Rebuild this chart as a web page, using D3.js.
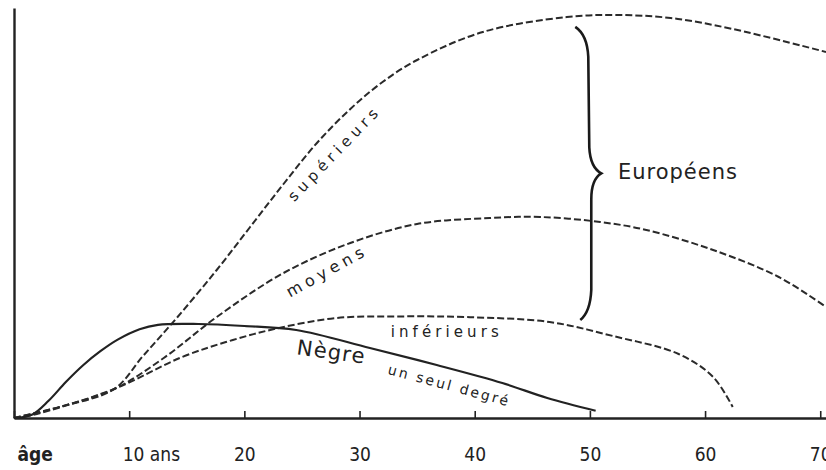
<!DOCTYPE html>
<html>
<head>
<meta charset="utf-8">
<script src="https://cdn.jsdelivr.net/npm/d3@7"></script>
<style>
  body { margin: 0; background: #fff; }
  text { fill: #222; font-family: "DejaVu Sans", sans-serif; }
  .tick text { font-family: "DejaVu Sans Condensed", "DejaVu Sans", sans-serif; font-stretch: condensed; }
</style>
</head>
<body>
<div id="chart"></div>
<script>
// values (age in years, growth in arbitrary units)
var superieursAge = [0, 4, 8.7, 11.2, 14.2, 17.6, 20.5, 23.4, 26.3, 29.2, 32, 35, 40.7, 48, 52.3, 57, 62.4, 70.5];
var superieursVal = [0, 2.8, 7.25, 15.5, 25.25, 37, 47.75, 58.5, 68.75, 77.25, 84, 89.5, 96.5, 100.25, 100.75, 100, 97.25, 91.5];

var moyensAge = [0, 4, 8.7, 13, 17.6, 23.4, 29.2, 35, 41.3, 45.7, 50.9, 54.9, 60.7, 66.4, 70.5];
var moyensVal = [0, 2.8, 7.25, 15, 25.25, 36.25, 43.75, 48.5, 50, 50.25, 49, 47, 42, 35.25, 27.75];

var inferieursAge = [0, 1.6, 8.7, 14.6, 19, 23, 28, 33.7, 39.6, 46.5, 52, 57.7, 60.7, 62.4];
var inferieursVal = [0, 0.75, 7.25, 15.25, 19.5, 22.5, 25, 25.4, 25.2, 24, 20.5, 16, 10.25, 2.75];

var negreAge = [0, 1.6, 3, 4.5, 6, 7.5, 9, 10.9, 12.5, 16, 20, 24.5, 30.9, 36.7, 42.4, 46.3, 50.5];
var negreVal = [0, 0.9, 4.3, 9, 13.2, 16.7, 19.6, 22.2, 23.3, 23.5, 23, 22, 17.5, 13.25, 8.75, 5, 1.8];

var tickAges = [0, 10, 20, 30, 40, 50, 60, 70];
var tickLabels = ["âge", "10 ans", "20", "30", "40", "50", "60", "70"];

// brace grouping the three european curves
var braceAge = 49.6;
var braceTop = 97.8;
var braceBottom = 24.5;

var svgWidth = 826;
var svgHeight = 470;

var svg = d3.select("#chart").append("svg")
  .attr("width", svgWidth)
  .attr("height", svgHeight);

var xScale = d3.scaleLinear().domain([0, 70.5]).range([14, 826]);
var yScale = d3.scaleLinear().domain([0, 102.5]).range([418, 8]);

function zip(a, v) {
  return a.map(function(d, i) { return [d, v[i]]; });
}

var line = d3.line()
  .x(d => xScale(d[0]))
  .y(d => yScale(d[1]))
  .curve(d3.curveCatmullRom.alpha(0.5));

// dashed european curves
[[superieursAge, superieursVal], [moyensAge, moyensVal], [inferieursAge, inferieursVal]].forEach(function(s) {
  svg.append("path")
    .attr("d", line(zip(s[0], s[1])))
    .attr("fill", "none")
    .attr("stroke", "#2a2a2a")
    .attr("stroke-width", 2)
    .attr("stroke-dasharray", "7,3");
});

// solid curve
svg.append("path")
  .attr("d", line(zip(negreAge, negreVal)))
  .attr("fill", "none")
  .attr("stroke", "#222")
  .attr("stroke-width", 2.2);

// axes
var xAxis = d3.axisBottom(xScale)
  .tickValues(tickAges)
  .tickSizeInner(-7)
  .tickSizeOuter(0)
  .tickPadding(0)
  .tickFormat((d, i) => tickLabels[i]);

var gx = svg.append("g")
  .attr("transform", `translate(0, ${yScale(0)})`)
  .call(xAxis);

gx.select(".domain").attr("stroke", "#222").attr("stroke-width", 2.6);
gx.selectAll(".tick line").attr("stroke", "#222").attr("stroke-width", 1.6);
gx.selectAll(".tick text")
  .attr("y", 43)
  .attr("dy", 0)
  .attr("font-size", 19)
  .attr("fill", "#222")
  .attr("font-weight", (d, i) => i == 0 ? "bold" : "normal")
  .attr("text-anchor", (d, i) => i < 2 ? "start" : "middle")
  .attr("dx", (d, i) => i == 0 ? 3 : (i == 1 ? -7 : 0));

var yAxis = d3.axisLeft(yScale).tickValues([]).tickSizeOuter(0);
var gy = svg.append("g")
  .attr("transform", `translate(${xScale(0)}, 0)`)
  .call(yAxis);
gy.select(".domain").attr("stroke", "#222").attr("stroke-width", 2.4);

// brace
var bx = xScale(braceAge);
var by0 = yScale(braceTop);
var by1 = yScale(braceBottom);
var bm = (by0 + by1) / 2;
var bracePath = d3.path();
bracePath.moveTo(bx - 10, by0);
bracePath.quadraticCurveTo(bx + 2, by0 + 8, bx + 3, by0 + 30);
bracePath.lineTo(bx + 4, bm - 26);
bracePath.quadraticCurveTo(bx + 5, bm - 6, bx + 16, bm);
bracePath.quadraticCurveTo(bx + 6, bm + 6, bx + 6, bm + 26);
bracePath.lineTo(bx + 6, by1 - 30);
bracePath.quadraticCurveTo(bx + 5, by1 - 8, bx - 5, by1);
svg.append("path")
  .attr("d", bracePath.toString())
  .attr("fill", "none")
  .attr("stroke", "#1a1a1a")
  .attr("stroke-width", 2.6);

// labels, placed at chart coordinates
function label(txt, age, val, angle, size, len, weight) {
  svg.append("text")
    .attr("transform", `translate(${xScale(age)}, ${yScale(val)}) rotate(${angle})`)
    .attr("text-anchor", "middle")
    .attr("dominant-baseline", "central")
    .attr("font-size", size)
    .attr("font-weight", weight || "normal")
    .attr("textLength", len)
    .attr("lengthAdjust", "spacing")
    .text(txt);
}

label("supérieurs", 27.7, 65.75, -46, 15, 122);
label("moyens", 27, 36.5, -29, 16, 86);
label("inférieurs", 37.4, 21.5, 0, 15, 108);
label("Nègre", 27.5, 16.5, 8, 21, 68);
label("un seul degré", 37.7, 8.25, 15, 14, 124);
label("Européens", 57.6, 61.5, 0, 21, 119);
</script>
</body>
</html>
